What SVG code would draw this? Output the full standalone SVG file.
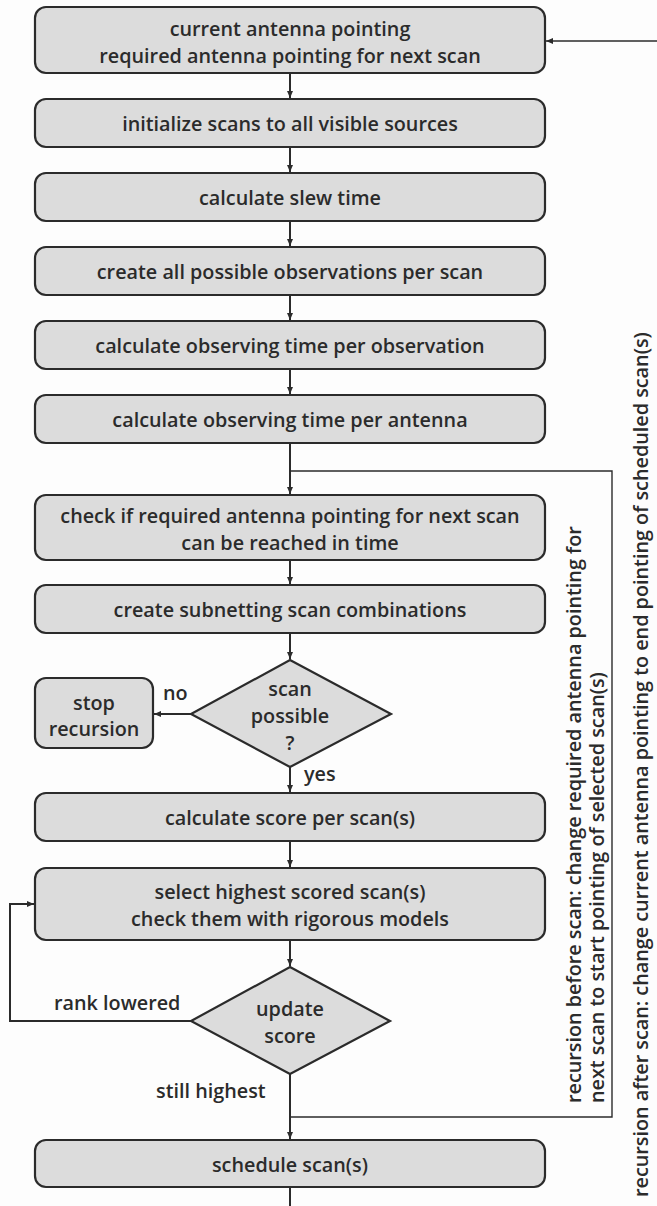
<svg xmlns="http://www.w3.org/2000/svg" width="657" height="1206" viewBox="0 0 657 1206">
<defs>
<marker id="ah" markerWidth="8" markerHeight="8" refX="7" refY="4" orient="auto" markerUnits="userSpaceOnUse">
<path d="M0,1 L7,4 L0,7 Z" fill="#2b2b2b"/>
</marker>
<style>
.box{fill:#dcdcdc;stroke:#2b2b2b;stroke-width:2.2}
.t{font-family:"Open Sans","Liberation Sans",sans-serif;font-weight:600;font-size:19.8px;fill:#2b2b2b;text-anchor:middle;dominant-baseline:central}
.l{font-family:"Open Sans","Liberation Sans",sans-serif;font-weight:600;font-size:19.8px;fill:#2b2b2b;dominant-baseline:central}
.c{fill:none;stroke:#2b2b2b;stroke-width:2}
.thin{fill:none;stroke:#2b2b2b;stroke-width:1.4}
</style>
</defs>
<rect width="657" height="1206" fill="#fdfdfd"/>
<g id="connectors">
<line class="thin" x1="657" y1="41" x2="546" y2="41" marker-end="url(#ah)"/>
<line class="c" x1="290" y1="73" x2="290" y2="98" marker-end="url(#ah)"/>
<line class="c" x1="290" y1="147" x2="290" y2="172" marker-end="url(#ah)"/>
<line class="c" x1="290" y1="221" x2="290" y2="246" marker-end="url(#ah)"/>
<line class="c" x1="290" y1="295" x2="290" y2="320" marker-end="url(#ah)"/>
<line class="c" x1="290" y1="369" x2="290" y2="394" marker-end="url(#ah)"/>
<line class="c" x1="290" y1="443" x2="290" y2="494" marker-end="url(#ah)"/>
<polyline class="thin" points="290,471 612,471 612,1117 290,1117"/>
<line class="c" x1="290" y1="560" x2="290" y2="584" marker-end="url(#ah)"/>
<line class="c" x1="290" y1="633" x2="290" y2="659" marker-end="url(#ah)"/>
<line class="c" x1="191" y1="714" x2="154" y2="714" marker-end="url(#ah)"/>
<line class="c" x1="290" y1="767" x2="290" y2="792" marker-end="url(#ah)"/>
<line class="c" x1="290" y1="841" x2="290" y2="867" marker-end="url(#ah)"/>
<line class="c" x1="290" y1="940" x2="290" y2="966" marker-end="url(#ah)"/>
<polyline class="c" points="191,1021 10,1021 10,904 34,904" marker-end="url(#ah)"/>
<line class="c" x1="290" y1="1074" x2="290" y2="1139" marker-end="url(#ah)"/>
<line class="c" x1="290" y1="1187" x2="290" y2="1206"/>
</g>
<g id="n1"><rect class="box" x="35" y="7" width="510" height="66" rx="11"/><text class="t" x="290" y="28">current antenna pointing</text><text class="t" x="290" y="55">required antenna pointing for next scan</text></g>
<g id="n2"><rect class="box" x="35" y="99" width="510" height="48" rx="11"/><text class="t" x="290" y="123">initialize scans to all visible sources</text></g>
<g id="n3"><rect class="box" x="35" y="173" width="510" height="48" rx="11"/><text class="t" x="290" y="197">calculate slew time</text></g>
<g id="n4"><rect class="box" x="35" y="247" width="510" height="48" rx="11"/><text class="t" x="290" y="271">create all possible observations per scan</text></g>
<g id="n5"><rect class="box" x="35" y="321" width="510" height="48" rx="11"/><text class="t" x="290" y="345">calculate observing time per observation</text></g>
<g id="n6"><rect class="box" x="35" y="395" width="510" height="48" rx="11"/><text class="t" x="290" y="419">calculate observing time per antenna</text></g>
<g id="n7"><rect class="box" x="35" y="495" width="510" height="65" rx="11"/><text class="t" x="290" y="515">check if required antenna pointing for next scan</text><text class="t" x="290" y="542">can be reached in time</text></g>
<g id="n8"><rect class="box" x="35" y="585" width="510" height="48" rx="11"/><text class="t" x="290" y="609">create subnetting scan combinations</text></g>
<g id="d1"><polygon class="box" points="290,660 391,714 290,767 191,714"/><text class="t" x="290" y="688">scan</text><text class="t" x="290" y="715">possible</text><text class="t" x="290" y="742">?</text></g>
<g id="stop"><rect class="box" x="35" y="678" width="118" height="70" rx="11"/><text class="t" x="94" y="702">stop</text><text class="t" x="94" y="728">recursion</text></g>
<g id="n9"><rect class="box" x="35" y="793" width="510" height="48" rx="11"/><text class="t" x="290" y="817">calculate score per scan(s)</text></g>
<g id="n10"><rect class="box" x="35" y="868" width="510" height="72" rx="11"/><text class="t" x="290" y="891">select highest scored scan(s)</text><text class="t" x="290" y="918">check them with rigorous models</text></g>
<g id="d2"><polygon class="box" points="290,967 390,1021 290,1074 191,1021"/><text class="t" x="290" y="1008">update</text><text class="t" x="290" y="1035">score</text></g>
<g id="n11"><rect class="box" x="35" y="1140" width="510" height="47" rx="11"/><text class="t" x="290" y="1164">schedule scan(s)</text></g>
<g id="labels">
<text class="l" x="163" y="692">no</text>
<text class="l" x="304" y="773">yes</text>
<text class="l" x="54" y="1002">rank lowered</text>
<text class="l" x="156" y="1090">still highest</text>
<text class="l" transform="translate(573,1103) rotate(-90)">recursion before scan: change required antenna pointing for</text>
<text class="l" transform="translate(596,1103) rotate(-90)">next scan to start pointing of selected scan(s)</text>
<text class="l" transform="translate(640,1197) rotate(-90)">recursion after scan: change current antenna pointing to end pointing of scheduled scan(s)</text>
</g>
</svg>
